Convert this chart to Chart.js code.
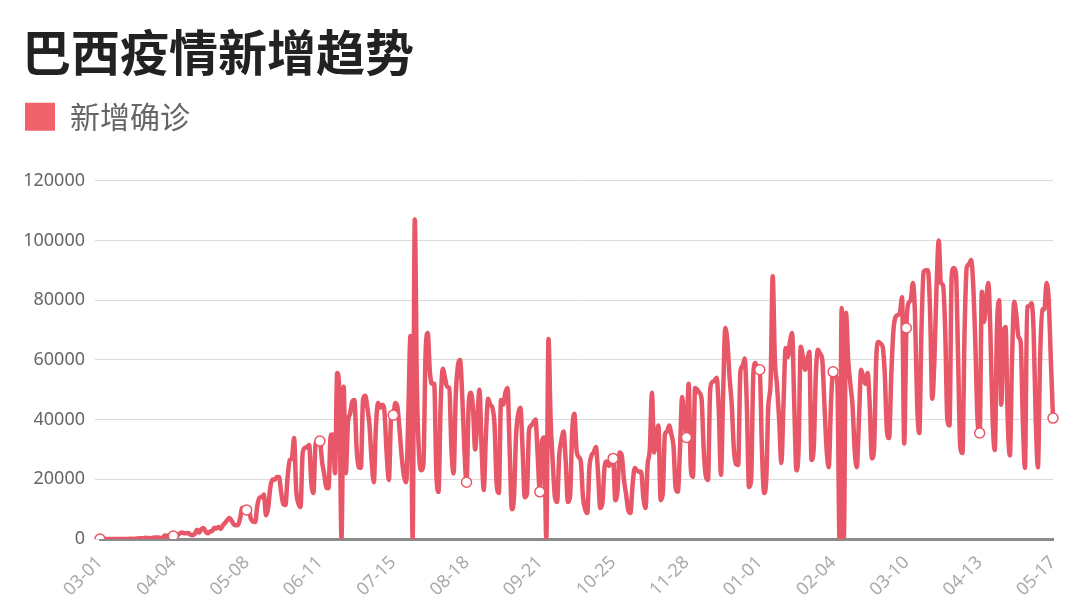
<!DOCTYPE html>
<html>
<head>
<meta charset="utf-8">
<title>巴西疫情新增趋势</title>
<script src="https://cdn.jsdelivr.net/npm/chart.js@4.4.1/dist/chart.umd.min.js"></script>
<style>
  html, body { margin: 0; padding: 0; background: #fff; }
</style>
</head>
<body>
<canvas id="chLine" width="1080" height="614"></canvas>
<script>
// daily new confirmed cases (one array per month)
var mar20 = [0, 0, 0, 1, 5, 5, 6, 6, 13, 9, 18, 25, 21, 23, 79, 34, 57, 137, 193, 283, 224, 418, 345, 310, 232, 482, 502, 487, 352, 323, 1138];
var apr20 = [1119, 1208, 1012, 1000, 1100, 1300, 1873, 2136, 1922, 1900, 2000, 1442, 1261, 1832, 3058, 2105, 3257, 3700, 2500, 1927, 2498, 2678, 3735, 3503, 4000, 3379, 4613, 5385, 6276, 7000];
var may20 = [6209, 4970, 4588, 4700, 6935, 10503, 9888, 9700, 9500, 6760, 5800, 5700, 11385, 13944, 14000, 14919, 7938, 10500, 17408, 19951, 19800, 20803, 20800, 15813, 11687, 11400, 20599, 26417, 27000, 33800, 16409];
var jun20 = [12000, 10700, 28800, 30500, 30800, 31500, 18900, 15400, 32000, 32900, 32800, 25900, 21700, 17100, 17000, 34900, 35000, 22000, 55600, 50000, 0, 51000, 22000, 39000, 42000, 46000, 46600, 30500, 24000, 23800];
var jul20 = [46700, 48000, 44000, 38000, 26000, 19000, 38000, 45600, 44000, 45000, 42000, 28000, 19800, 40000, 41500, 45600, 44000, 36000, 27000, 21000, 19000, 42000, 68000, 0, 107000, 50000, 28000, 23000, 25000, 62000, 69000];
var aug20 = [56000, 52000, 52000, 22000, 15800, 45000, 57000, 54000, 51000, 50600, 30000, 22000, 48000, 58000, 60000, 48000, 30000, 19000, 45000, 49000, 44000, 30000, 40000, 50000, 30000, 16400, 35000, 47000, 45000, 44000, 38000];
var sep20 = [18000, 15400, 46600, 45000, 49000, 50600, 30000, 10000, 14000, 35000, 42000, 44000, 30000, 14000, 15000, 36500, 38000, 39000, 40000, 28000, 15800, 33000, 34000, 0, 67000, 40000, 25500, 14000, 12400, 28000];
var oct20 = [33000, 36000, 26000, 12400, 14000, 36000, 42000, 30000, 27500, 26000, 14000, 10000, 8700, 24000, 28000, 29000, 30800, 22000, 10400, 12000, 24000, 26000, 24500, 26000, 27000, 13000, 16000, 29000, 28000, 20000, 15000];
var nov20 = [9700, 8700, 18000, 23800, 23000, 22500, 22500, 14000, 10400, 25000, 30000, 49000, 29000, 34000, 38000, 13000, 15000, 35000, 36000, 38000, 35000, 31000, 17000, 15800, 30000, 47600, 40000, 34000, 52000, 24000];
var dec20 = [20800, 50600, 50000, 49000, 47000, 30000, 21000, 19800, 50000, 52600, 53000, 54000, 43000, 21500, 48000, 70700, 66000, 54000, 45000, 30000, 25000, 24800, 56000, 58000, 60500, 45000, 17400, 20000, 55000, 59000, 57000];
var jan21 = [56700, 30000, 15400, 20000, 45000, 52000, 88000, 60000, 51600, 40000, 25500, 45000, 64000, 61000, 66000, 69000, 45000, 23000, 30000, 64400, 61000, 56700, 60000, 62700, 26500, 30000, 55000, 63400, 62000, 60000, 45000];
var feb21 = [30000, 24000, 45000, 56000, 55000, 52000, 0, 77400, 0, 75800, 60000, 52000, 45000, 30000, 24000, 40000, 56700, 54000, 52000, 55600, 45000, 27000, 30000, 60000, 66000, 65500, 64400, 55000];
var mar21 = [36000, 33800, 55000, 70000, 74400, 75000, 75800, 81000, 32000, 70700, 79000, 80000, 85800, 75000, 45000, 35500, 70000, 89500, 90000, 90000, 76000, 47000, 60000, 84500, 100000, 85800, 85000, 70000, 40000, 38000, 88000];
var apr21 = [90800, 89000, 60000, 30800, 28800, 70000, 91000, 92000, 93500, 85000, 65000, 40000, 35500, 82800, 72700, 80000, 85800, 68000, 40000, 29800, 70000, 80000, 45000, 68000, 71000, 40000, 28000, 60000, 79500, 75000];
var may21 = [67700, 66000, 40000, 23800, 77800, 78000, 79000, 70000, 40000, 24000, 60000, 76800, 77000, 85800, 80000, 60000, 40500];

var startDate = '2020-03-01';
var tickEvery = 34;   // one label (and one marker) every 34 days
var yTicks = [0, 20000, 40000, 60000, 80000, 100000, 120000];

var lineColor = '#e85767';
var legendColor = '#f0636a';
var font = '"Noto Sans CJK SC", "Noto Sans", sans-serif';
var numFont = '"Noto Sans", "Noto Sans CJK SC", sans-serif';

var newCases = [].concat(mar20, apr20, may20, jun20, jul20, aug20, sep20, oct20,
    nov20, dec20, jan21, feb21, mar21, apr21, may21);

// MM-DD label for every day
var labels = [];
var day0 = new Date(startDate + 'T00:00:00Z').getTime();
for (var i = 0; i < newCases.length; i++) {
    var d = new Date(day0 + i * 86400000);
    labels.push(String(d.getUTCMonth() + 1).padStart(2, '0') + '-' + String(d.getUTCDate()).padStart(2, '0'));
}

var chLine = document.getElementById('chLine').getContext('2d');
var lineChart = new Chart(chLine, {
    type: 'line',
    data: {
        labels: labels,
        datasets: [{
            label: '新增确诊',
            data: newCases,
            borderColor: lineColor,
            backgroundColor: legendColor,
            borderWidth: 4.5,
            cubicInterpolationMode: 'monotone',
            fill: false,
            pointRadius: function (ctx) { return ctx.dataIndex % tickEvery === 0 ? 5 : 0; },
            pointBackgroundColor: '#fff',
            pointBorderColor: lineColor,
            pointBorderWidth: 1.5
        }]
    },
    options: {
        responsive: false,
        animation: false,
        devicePixelRatio: 1,
        layout: { padding: { left: 22, right: 27, top: 0, bottom: 0 } },
        plugins: {
            title: {
                display: true,
                text: '巴西疫情新增趋势',
                align: 'start',
                color: '#222',
                weight: 2000,
                font: { family: font, size: 49, weight: 'bold' },
                padding: { top: 23, bottom: 17 }
            },
            legend: {
                display: true,
                position: 'top',
                align: 'start',
                weight: 1500,
                labels: {
                    boxWidth: 30,
                    boxHeight: 28,
                    padding: 3,
                    color: '#666',
                    font: { family: font, size: 30 },
                    generateLabels: function (chart) {
                        var items = Chart.defaults.plugins.legend.labels.generateLabels(chart);
                        items.forEach(function (it) {
                            it.fillStyle = legendColor;
                            it.strokeStyle = legendColor;
                            it.lineWidth = 0;
                        });
                        return items;
                    }
                }
            },
            // empty spacer between legend and plot
            subtitle: {
                display: true,
                text: '',
                weight: 1000,
                font: { size: 10, lineHeight: 1 },
                padding: { top: 0, bottom: 29 }
            },
            tooltip: { enabled: false }
        },
        scales: {
            x: {
                grid: { display: false },
                border: { display: true, color: '#8c8c8c', width: 3 },
                ticks: {
                    autoSkip: false,
                    minRotation: 45,
                    maxRotation: 45,
                    color: '#aaa',
                    font: { family: numFont, size: 18 },
                    padding: 5,
                    callback: function (val, index) {
                        return index % tickEvery === 0 ? this.getLabelForValue(val) : null;
                    }
                },
                afterFit: function (scale) { scale.height = 75; }
            },
            y: {
                min: yTicks[0],
                max: yTicks[yTicks.length - 1],
                border: { display: false },
                grid: { color: '#dcdcdc', lineWidth: 1, tickLength: 5 },
                ticks: {
                    stepSize: yTicks[1] - yTicks[0],
                    color: '#666',
                    padding: 10,
                    font: { family: numFont, size: 18 },
                    callback: function (v) { return String(v); }
                },
                afterFit: function (scale) { scale.width = 78; }
            }
        }
    }
});
</script>
</body>
</html>
